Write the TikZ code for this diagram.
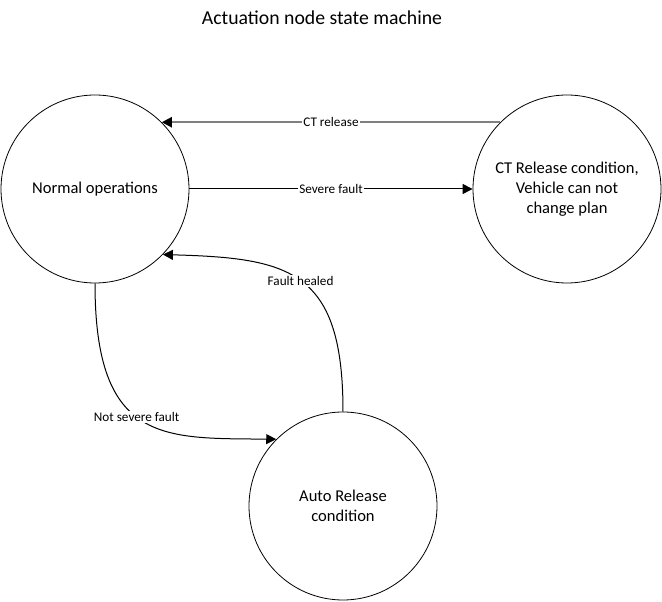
\documentclass[tikz,border=0pt]{standalone}
\usepackage{fontspec}
\setmainfont{Carlito}
\usetikzlibrary{arrows.meta}

\tikzset{
  state/.style={draw, circle, line width=0.6pt, inner sep=0pt, minimum size=141pt,
    align=center, font=\fontsize{12.4}{15}\selectfont},
  lbl/.style={fill=white, inner sep=1pt, font=\fontsize{9.9}{11}\selectfont},
  trans/.style={line width=0.75pt, -{Triangle[length=7.5pt,width=7.5pt,color=black]}}
}

\begin{document}
\begin{tikzpicture}[x=0.75pt,y=-0.75pt]
    \useasboundingbox (0,0) rectangle (662,602);

    %title
    \node (title) at (322,18) {\fontsize{14.8}{17}\selectfont Actuation node state machine};

    %states
    \node[state] (normal) at (95,189) {Normal operations};
    \node[state] (ctrel) at (567,189) {CT Release condition,\\Vehicle can not\\change plan};
    \node[state] (autorel) at (343,506) {Auto Release\\condition};

    %transitions
    \draw[trans, draw=gray, line width=1.5pt] (ctrel.135) -- node[lbl] {CT release} (normal.45);
    \draw[trans] (normal.east) -- node[lbl] {Severe fault} (ctrel.west);
    \draw[trans] (autorel.north) .. controls (343,270) and (290,258) .. (normal.-44)
        node[lbl, pos=0.5] {Fault healed};
    \draw[trans] (normal.south) .. controls (95,445) and (165,438) .. (autorel.135)
        node[lbl, pos=0.46] {Not severe fault};
\end{tikzpicture}
\end{document}
